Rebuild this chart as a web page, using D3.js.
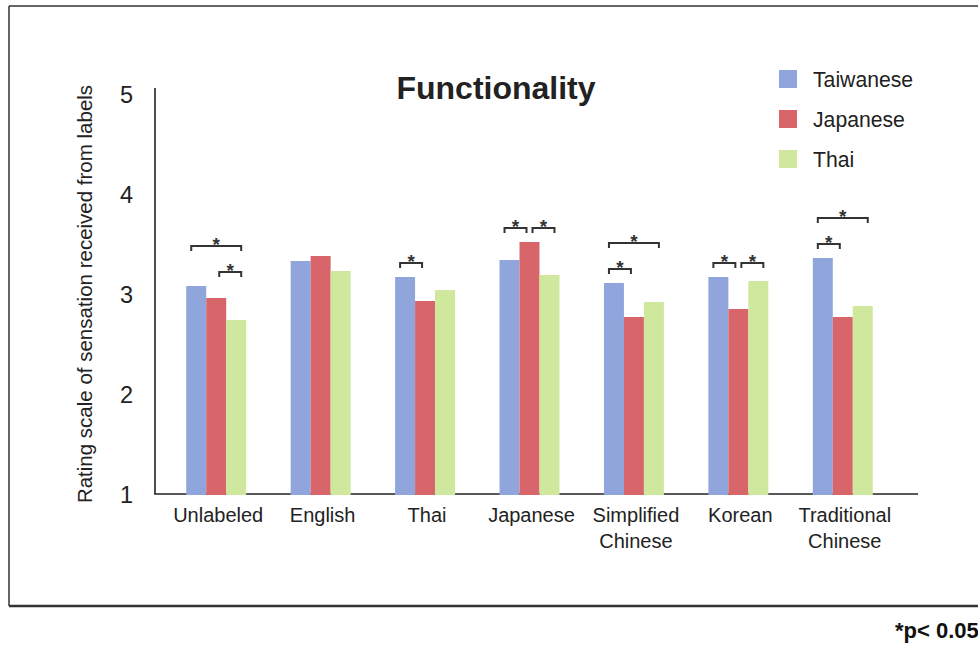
<!DOCTYPE html>
<html>
<head>
<meta charset="utf-8">
<script src="https://cdn.jsdelivr.net/npm/d3@7"></script>
<style>
  html, body { margin: 0; padding: 0; background: #fff; }
  svg { display: block; font-family: "Liberation Sans", Arial, Helvetica, sans-serif; }
</style>
</head>
<body>
<svg id="chart" width="978" height="646"></svg>
<script>
// Mean functionality ratings per label language, by respondent nationality
const categories = ["Unlabeled", "English", "Thai", "Japanese", "Simplified\nChinese", "Korean", "Traditional\nChinese"];
const seriesNames = ["Taiwanese", "Japanese", "Thai"];
const taiwanese = [3.08, 3.33, 3.17, 3.34, 3.11, 3.17, 3.36];
const japanese  = [2.96, 3.38, 2.93, 3.52, 2.77, 2.85, 2.77];
const thai      = [2.74, 3.23, 3.04, 3.19, 2.92, 3.13, 2.88];
const yTicks = [1, 2, 3, 4, 5];
const colors = ["#8fa5dc", "#d8656a", "#cfe89d"];

// Significant pairwise differences (series indices), level 0 = lower bracket
const sigPairs = [
  { cat: "Unlabeled", from: 0, to: 2, level: 1 },
  { cat: "Unlabeled", from: 1, to: 2, level: 0 },
  { cat: "Thai", from: 0, to: 1, level: 0 },
  { cat: "Japanese", from: 0, to: 1, level: 0 },
  { cat: "Japanese", from: 1, to: 2, level: 0 },
  { cat: "Simplified\nChinese", from: 0, to: 2, level: 1 },
  { cat: "Simplified\nChinese", from: 0, to: 1, level: 0 },
  { cat: "Korean", from: 0, to: 1, level: 0 },
  { cat: "Korean", from: 1, to: 2, level: 0 },
  { cat: "Traditional\nChinese", from: 0, to: 2, level: 1 },
  { cat: "Traditional\nChinese", from: 0, to: 1, level: 0 }
];

const series = [taiwanese, japanese, thai];
const rows = categories.map((c, i) => ({ cat: c, values: series.map(s => s[i]) }));

const svg = d3.select("#chart");
const ink = "#222";

// outer frame
svg.append("line").attr("x1", 9).attr("x2", 990).attr("y1", 6).attr("y2", 6)
  .attr("stroke", "#333").attr("stroke-width", 1.5);
svg.append("line").attr("x1", 9).attr("x2", 9).attr("y1", 6).attr("y2", 606)
  .attr("stroke", "#333").attr("stroke-width", 1.5);
svg.append("line").attr("x1", 9).attr("x2", 990).attr("y1", 606).attr("y2", 606)
  .attr("stroke", "#333").attr("stroke-width", 2.5);

const plot = { left: 155, right: 918, top: 88, bottom: 494 };

const y = d3.scaleLinear().domain([1, 5]).range([494, 94]);
const x = d3.scaleBand().domain(categories).range([164, 895])
  .paddingInner(0.426).paddingOuter(0.213);
const xs = d3.scaleBand().domain(d3.range(seriesNames.length)).range([0, x.bandwidth()]);
const bw = xs.bandwidth();

// axes lines
svg.append("line").attr("x1", plot.left).attr("x2", plot.left)
  .attr("y1", plot.top).attr("y2", plot.bottom)
  .attr("stroke", ink).attr("stroke-width", 1.6);
svg.append("line").attr("x1", plot.left - 0.8).attr("x2", plot.right)
  .attr("y1", plot.bottom).attr("y2", plot.bottom)
  .attr("stroke", ink).attr("stroke-width", 1.6);

// y tick labels via axis generator (no tick marks)
const yAxis = d3.axisLeft(y).tickValues(yTicks).tickSize(0).tickPadding(0).tickFormat(d3.format("d"));
const gy = svg.append("g").attr("transform", "translate(133,0)").call(yAxis);
gy.select(".domain").remove();
gy.selectAll("text").attr("font-size", 23.5).attr("fill", ink)
  .attr("font-family", "'Liberation Sans', Arial, sans-serif").attr("dy", "0.36em");

// y axis title
svg.append("text")
  .attr("transform", "translate(92,294) rotate(-90)")
  .attr("text-anchor", "middle")
  .attr("font-size", 20.5).attr("fill", ink)
  .text("Rating scale of sensation received from labels");

// bars
const groups = svg.append("g").selectAll("g").data(rows).join("g")
  .attr("transform", d => `translate(${x(d.cat)},0)`);
groups.selectAll("rect").data(d => d.values.map((v, i) => ({ v, i }))).join("rect")
  .attr("x", d => xs(d.i)).attr("width", bw)
  .attr("y", d => y(d.v)).attr("height", d => y(1) + 1 - y(d.v))
  .attr("fill", d => colors[d.i]);

// category labels
const xl = svg.append("g").selectAll("text").data(categories).join("text")
  .attr("x", d => x(d) + x.bandwidth() / 2)
  .attr("y", 522)
  .attr("text-anchor", "middle")
  .attr("font-size", 20).attr("fill", ink);
xl.each(function (d) {
  const t = d3.select(this);
  d.split("\n").forEach((line, i) => {
    t.append("tspan").attr("x", x(d) + x.bandwidth() / 2 + 2).attr("dy", i === 0 ? 0 : 26).text(line);
  });
});

// significance brackets
const rowMax = new Map(rows.map(r => [r.cat, d3.max(r.values)]));
const br = svg.append("g");
sigPairs.forEach(p => {
  const x0 = x(p.cat);
  const x1 = x0 + xs(p.from) + (p.from === 0 ? 0.25 : 0.65) * bw;
  const x2 = x0 + xs(p.to) + (p.to === 2 ? 0.75 : 0.35) * bw;
  const yy = y(rowMax.get(p.cat)) - 14 - p.level * 26;
  br.append("path")
    .attr("d", `M${x1},${yy + 5}V${yy}H${x2}V${yy + 5}`)
    .attr("fill", "none").attr("stroke", "#333").attr("stroke-width", 2);
  br.append("text")
    .attr("x", (x1 + x2) / 2).attr("y", yy + 5)
    .attr("text-anchor", "middle")
    .attr("font-size", 19).attr("font-weight", "bold").attr("fill", "#333")
    .text("*");
});

// title
svg.append("text").attr("x", 496).attr("y", 99)
  .attr("text-anchor", "middle")
  .attr("font-size", 32).attr("font-weight", "bold").attr("fill", ink)
  .text("Functionality");

// legend
const lg = svg.append("g").selectAll("g").data(seriesNames).join("g")
  .attr("transform", (d, i) => `translate(779,${70 + i * 40})`);
lg.append("rect").attr("width", 18).attr("height", 18).attr("fill", (d, i) => colors[i]);
lg.append("text").attr("x", 34).attr("y", 16.5)
  .attr("font-size", 21.2).attr("fill", ink).text(d => d);

// significance note
svg.append("text").attr("x", 895).attr("y", 638)
  .attr("font-size", 22).attr("font-weight", "bold").attr("fill", "#111")
  .text("*p< 0.05");
</script>
</body>
</html>
